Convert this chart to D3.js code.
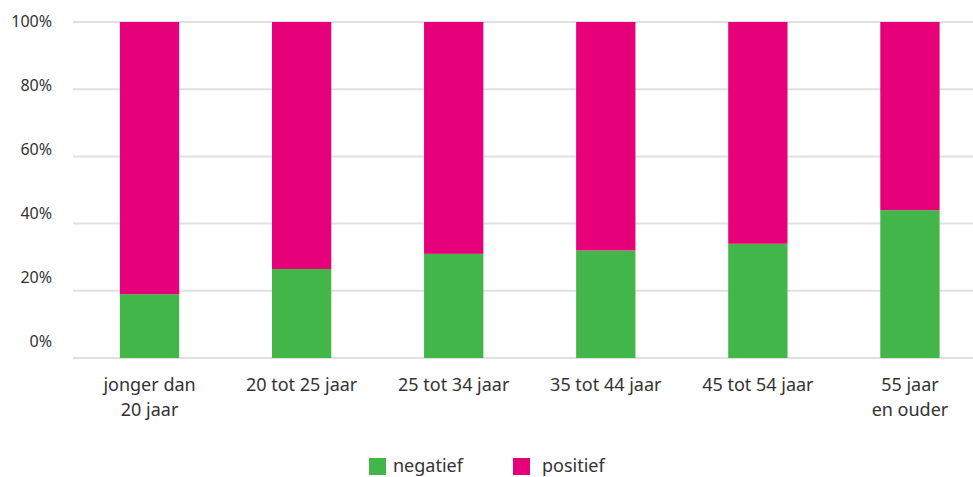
<!DOCTYPE html>
<html>
<head>
<meta charset="utf-8">
<script src="https://cdn.jsdelivr.net/npm/d3@7"></script>
<style>
  body { margin: 0; background: #fff; }
  text { font-family: "Noto Sans", Lato, sans-serif; fill: #333; }
</style>
</head>
<body>
<div id="wrapper"></div>
<script>
const categories = ["jonger dan|20 jaar", "20 tot 25 jaar", "25 tot 34 jaar", "35 tot 44 jaar", "45 tot 54 jaar", "55 jaar|en ouder"];
const negatief = [19, 26.5, 31, 32, 34, 44];
const positief = [81, 73.5, 69, 68, 66, 56];
const yTicks = [0, 20, 40, 60, 80, 100];
const seriesNames = ["negatief", "positief"];
const colors = ["#43b649", "#e6007a"];

const width = 973, height = 477;

const svg = d3.select("#wrapper").append("svg")
    .attr("width", width)
    .attr("height", height);

const scaleX = d3.scaleBand()
    .domain(categories)
    .range([73.5, 986])
    .paddingInner(0.61)
    .paddingOuter(0.305);

const scaleY = d3.scaleLinear()
    .domain([0, 100])
    .range([358, 22]);

// tick labels sit a bit above the grid lines in the original
const labelY = d3.scaleLinear()
    .domain([0, 100])
    .range([341, 21]);

// grid
svg.append("g")
    .selectAll("line")
    .data(yTicks)
    .join("line")
    .attr("x1", 73)
    .attr("x2", width)
    .attr("y1", d => scaleY(d))
    .attr("y2", d => scaleY(d))
    .attr("stroke", "#e0e0e0")
    .attr("stroke-width", 2);

svg.append("g")
    .selectAll("text")
    .data(yTicks)
    .join("text")
    .attr("x", 52)
    .attr("y", d => labelY(d))
    .attr("dy", "0.35em")
    .attr("text-anchor", "end")
    .attr("font-size", "16px")
    .text(d => d + "%");

// stacked bars
const table = categories.map((c, i) => ({ cat: c, negatief: negatief[i], positief: positief[i] }));
const stacked = d3.stack().keys(seriesNames)(table);

svg.append("g")
    .selectAll("g")
    .data(stacked)
    .join("g")
    .attr("fill", (d, i) => colors[i])
    .selectAll("rect")
    .data(d => d)
    .join("rect")
    .attr("x", d => scaleX(d.data.cat))
    .attr("y", d => scaleY(d[1]))
    .attr("width", scaleX.bandwidth())
    .attr("height", d => scaleY(d[0]) - scaleY(d[1]));

// x labels
const xLabels = svg.append("g")
    .selectAll("text")
    .data(categories)
    .join("text")
    .attr("x", d => scaleX(d) + scaleX.bandwidth() / 2)
    .attr("y", 391)
    .attr("text-anchor", "middle")
    .attr("font-size", "18px");

xLabels.each(function(d) {
    const lines = d.split("|");
    d3.select(this).selectAll("tspan")
        .data(lines)
        .join("tspan")
        .attr("x", scaleX(d) + scaleX.bandwidth() / 2)
        .attr("dy", (l, i) => i === 0 ? 0 : 25)
        .text(l => l);
});

// legend
const legendX = [369, 513];
const legend = svg.append("g")
    .selectAll("g")
    .data(seriesNames)
    .join("g")
    .attr("transform", (d, i) => `translate(${legendX[i]},458)`);

legend.append("rect")
    .attr("width", 17)
    .attr("height", 17)
    .attr("fill", (d, i) => colors[i]);

legend.append("text")
    .attr("x", (d, i) => i === 0 ? 24 : 29)
    .attr("y", 14)
    .attr("font-size", "18px")
    .text(d => d);
</script>
</body>
</html>
